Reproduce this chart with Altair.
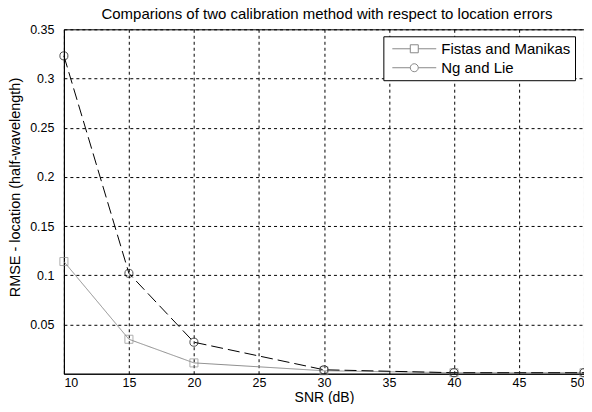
import altair as alt
import pandas as pd

snr = [10, 15, 20, 30, 40, 50]
fistas = [0.114, 0.035, 0.011, 0.003, 0.001, 0.001]
ng = [0.323, 0.102, 0.032, 0.004, 0.001, 0.001]
series_names = ["Fistas and Manikas", "Ng and Lie"]
x_ticks = [10, 15, 20, 25, 30, 35, 40, 45, 50]
y_ticks = [0.05, 0.1, 0.15, 0.2, 0.25, 0.3, 0.35]

rows = []
for s, vals in zip(series_names, [fistas, ng]):
    for x, v in zip(snr, vals):
        rows.append({"snr": x, "rmse": v, "series": s})
df = pd.DataFrame(rows)

FONT = "Liberation Sans"
colors = ["#8c8c8c", "#000000"]

x_enc = alt.X("snr:Q", scale=alt.Scale(domain=[10, 50], nice=False),
              axis=alt.Axis(values=x_ticks, title="SNR (dB)", format="d", labelPadding=3,
                            titleY=27.5, titleBaseline="alphabetic", titleFontSize=14))
y_enc = alt.Y("rmse:Q", scale=alt.Scale(domain=[0, 0.35], nice=False),
              axis=alt.Axis(values=y_ticks, title="RMSE - location (half-wavelength)", format="~g",
                            labelPadding=10, titleX=-44, titleY=158, titleAngle=270,
                            titleBaseline="alphabetic", titleAlign="center", titleFontSize=14.5))
color_enc = alt.Color("series:N", scale=alt.Scale(domain=series_names, range=colors), legend=None)

lines = alt.Chart(df).mark_line(strokeWidth=1).encode(
    x=x_enc, y=y_enc, color=color_enc,
    strokeDash=alt.StrokeDash("series:N", scale=alt.Scale(domain=series_names, range=[[1, 0], [12, 5]]), legend=None),
)
points = alt.Chart(df).mark_point(filled=False, size=65, strokeWidth=1).encode(
    x=x_enc, y=y_enc, color=color_enc,
    shape=alt.Shape("series:N", scale=alt.Scale(domain=series_names, range=["square", "circle"]), legend=None),
)

# legend symbols: a line with a marker in the middle (units of 8px)
a, b, c, h = -0.44, 1.81, 2.81, 5.06
sq_path = f"M{a},0H{b}M{c},0H{h}M{b},-0.5H{c}V0.5H{b}Z"
ci_path = f"M{a},0H{b}M{c},0H{h}M{b},0A0.5,0.5 0 1,0 {c},0A0.5,0.5 0 1,0 {b},0"

legend = alt.Chart(df).mark_point(filled=False, strokeWidth=1).encode(
    shape=alt.Shape("series:N", scale=alt.Scale(domain=series_names, range=[sq_path, ci_path]),
                    legend=alt.Legend(title=None, orient="none", legendX=320, legendY=7,
                                      strokeColor="black", fillColor="white", padding=4,
                                      labelFont=FONT, labelFontSize=15, labelColor="black",
                                      symbolSize=256, symbolStrokeWidth=1, rowPadding=2,
                                      labelOffset=37, symbolOpacity=1, labelLimit=300)),
    stroke=alt.Stroke("series:N", scale=alt.Scale(domain=series_names, range=colors), legend=None),
).transform_filter("false")

chart = alt.layer(lines, points, legend).resolve_scale(shape="independent").properties(
    width=521, height=345,
    autosize=alt.AutoSizeParams(type="none"),
    padding={"left": 56, "top": 21, "right": 0, "bottom": 30},
    title=alt.TitleParams("Comparions of two calibration method with respect to location errors",
                          font=FONT, fontSize=15, fontWeight="normal", color="black",
                          anchor="middle", offset=1, dx=3),
).configure_view(stroke="black", strokeWidth=1).configure_axis(
    labelFont=FONT, labelFontSize=12.5, labelColor="black",
    titleFont=FONT, titleFontWeight="normal", titleColor="black",
    grid=True, gridColor="black", gridDash=[3, 3], gridOpacity=1, gridWidth=1,
    domainColor="black", ticks=False, labelPadding=4,
)

chart.save("out.html", embed_options={"renderer": "svg", "actions": False})
